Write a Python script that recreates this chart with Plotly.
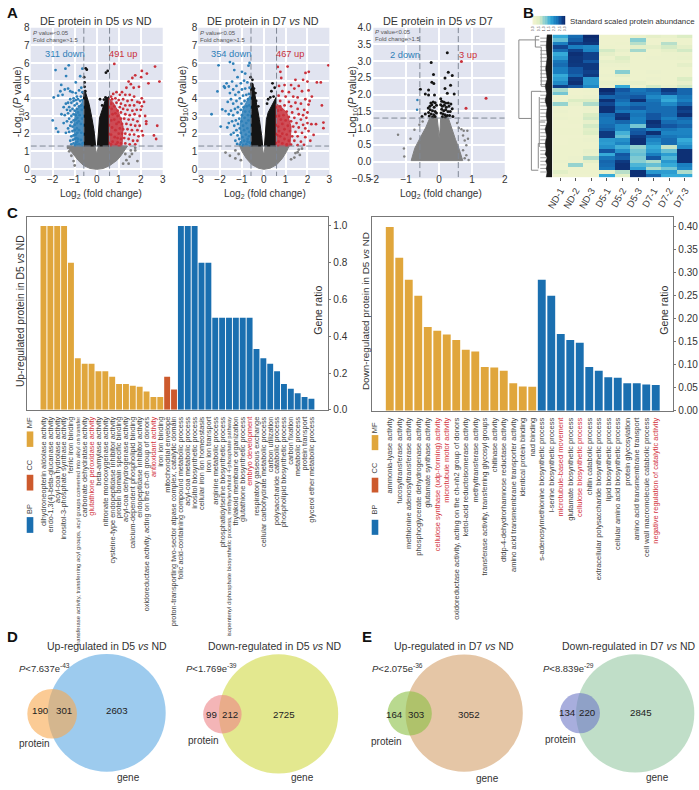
import plotly.graph_objects as go

W, H = 699, 790
FONT = "Liberation Sans"

# volcano values. the solid black/grey masses and the packed part of the
# blue/red clouds hold too many overlapping points to read, so they are traced as outlines;
# everything sparse is typed point by point
a1_down = [(-1.87,5.6),(-1.42,5.68),(-1.27,5.87),(-1.39,5.26),(-1.61,4.76),(-.65,5.68),(-.95,4.9),(-.75,5.25),(-1.45,4.5),(-1.3,4.55),(-1.2,4.4),
    (-1.95,4.05),(-1.75,4.15),(-1.65,4.4),(-1.55,4.2),(-1.1,4.35),(-.95,4.3),(-.8,4.45),(-.7,4.6),(-.65,4.35),(-.72,4.1),(-.9,4.1),(-1.05,4.0),(-1.2,3.95),
    (-1.4,3.7),(-1.3,3.75),(-1.5,3.5),(-1.35,3.35),(-1.25,3.5),(-1.15,3.75),(-1.05,3.85),(-.95,3.9),(-.85,3.95),(-.75,3.85),(-.65,3.9),(-1.0,3.6),(-.9,3.7),(-.8,3.55),(-.7,3.6),
    (-1.6,3.1),(-1.45,3.05),(-1.3,3.15),(-1.2,3.3),(-1.1,3.4),(-1.0,3.3),(-.9,3.4),(-1.15,3.0),(-1.05,3.1),(-.95,3.05),(-1.25,2.85),(-1.35,2.7),(-2.0,2.75),
    (-1.5,2.6),(-1.15,2.65),(-1.05,2.75),(-.95,2.8),(-.88,2.9),(-1.2,2.45),(-1.1,2.4),(-1.0,2.5),(-.9,2.6),(-1.3,2.3),(-1.75,2.1),(-1.4,2.05),(-1.25,2.1),(-1.1,2.15),(-1.0,2.2),(-.9,2.3),
    (-1.85,2.3),(-1.15,1.85),(-1.05,1.9),(-.95,1.95),(-.88,2.05),(-1.2,1.6),(-1.08,1.65),(-1.0,1.7),(-.92,1.75),(-1.05,1.45),(-.95,1.5),(-.88,1.55),(-1.15,1.4),(-.98,1.35),(-.9,1.38),
    (-.85,3.2),(-.78,3.05),(-.68,3.35),(-.82,2.7),(-.72,2.55),(-.66,2.85),(-.8,2.2),(-.7,2.05),(-.85,1.7),(-.72,1.65),(-.64,1.45),(-.8,1.4),(-.74,1.35)]
a1_up = [(.8,5.95),(2.65,5.8),(2.05,5.55),(2.28,5.4),(1.75,5.3),(2.02,5.2),(1.62,5.15),(2.85,4.95),(2.35,4.85),(1.45,4.95),(1.92,4.65),(1.68,4.6),(1.55,4.8),(1.35,4.6),(1.15,4.35),
    (.9,4.35),(.75,4.25),(.65,4.1),(1.05,4.2),(1.3,4.2),(1.5,4.2),(1.7,4.1),(2.05,4.0),(.85,4.0),(.7,3.95),(1.0,3.9),(1.2,3.95),(1.4,3.85),(1.6,3.9),(1.85,3.8),(1.95,3.75),(2.15,3.8),
    (.65,3.7),(.9,3.75),(1.1,3.7),(1.3,3.6),(1.5,3.6),(1.7,3.6),(2.05,3.55),(1.05,3.5),(1.2,3.4),(1.4,3.35),(1.62,3.3),(1.82,3.35),(2.0,3.35),(.95,3.3),(1.1,3.2),(1.3,3.1),(1.5,3.05),(1.72,3.1),
    (1.95,3.0),(2.2,3.0),(.95,3.0),(1.1,2.85),(1.25,2.85),(1.45,2.8),(1.65,2.8),(1.85,2.7),(2.25,2.7),(1.0,2.65),(1.15,2.55),(1.35,2.55),(1.55,2.5),(1.75,2.45),(1.95,2.45),(2.25,2.55),(2.75,2.45),
    (1.05,2.3),(1.2,2.25),(1.4,2.25),(1.6,2.2),(1.85,2.2),(2.05,2.15),(1.0,2.0),(1.15,2.0),(1.3,2.0),(1.5,1.95),(1.7,1.95),(1.9,1.85),(2.1,1.9),(.95,1.75),(1.1,1.7),(1.25,1.75),(1.45,1.7),(1.65,1.6),(1.85,1.6),
    (2.6,1.9),(2.7,1.7),(.95,1.5),(1.1,1.45),(1.3,1.45),(1.5,1.4),(1.75,1.4),(.68,3.4),(.8,3.55),(.72,3.1),(.85,3.15),(.66,2.75),(.8,2.8),(.9,2.55),(.7,2.35),(.85,2.2),(.65,1.95),(.82,1.8),(.72,1.55),(.88,1.38),(.65,1.4)]
a1_black = [(-.5,5.7),(-.55,4.9),(-.45,5.62),(-.57,5.2),(.42,5.45),(.5,5.55),(-.55,4.65),(-.52,4.4),(-.6,4.3),(.33,3.93),(.4,4.05),(.25,3.6),(.15,3.95),(.35,3.5),(.45,4.0),(-.42,3.7),(-.38,3.45)]
a1_grey = [(1.75,1.2),(1.75,1.05),(1.6,.85),(1.55,1.05),(1.85,.45),(-1.3,1.2),(-1.25,1.0),(-1.15,.75),(1.35,.5),(1.45,.3),(-1.05,.45),(-1.0,.2),(1.5,.7),(1.3,.85),(1.2,.3)]
a1_black_left_x = [-.6,-.6,-.52,-.34,-.22,-.12,-.05,-.6]
a1_black_left_y = [1.3,4.4,4.4,3.65,2.9,2.17,1.3,1.3]
a1_black_right_x = [.03,.07,.13,.33,.4,.56,.56,.03]
a1_black_right_y = [1.3,2.17,2.9,3.65,3.95,4.1,1.3,1.3]
a1_grey_x = [-1.35,-1.2,-1.05,-.85,-.6,-.3,0,.3,.6,.93,1.1,1.25,1.4,.08,.02,-.02,-.08,-1.35]
a1_grey_y = [1.3,1.05,.8,.5,.2,.03,-.02,.03,.2,.5,.75,1.05,1.3,1.3,.95,.95,1.3,1.3]
a1_down_core_x = [-.6,-.6,-.75,-.95,-1.05,-.95,-.6]
a1_down_core_y = [1.3,3.9,3.6,3.3,2.4,1.3,1.3]
a1_up_core_x = [.56,.56,.75,1.0,1.2,1.15,.56]
a1_up_core_y = [1.3,4.0,3.75,3.2,2.4,1.3,1.3]

a2_down = [(-2.07,5.87),(-2.39,3.1),(-2.12,4.39),(-1.55,6.05),(-1.4,5.96),(-1.82,4.67),(-1.6,4.67),(-1.97,2.4),(-1.67,2.35),(-1.9,3.37),(-1.75,3.28),(-.65,6.0),(-.7,5.85),(-1.35,5.6),(-1.0,5.5),(-1.2,5.2),
    (-.85,5.4),(-1.45,4.95),(-1.7,4.85),(-1.78,4.6),(-1.55,4.3),(-1.4,4.5),(-1.25,4.7),(-1.05,4.85),(-.9,5.0),(-.75,4.9),(-.65,4.6),(-.85,4.55),(-1.0,4.5),(-1.15,4.35),(-1.3,4.2),(-1.5,3.95),(-1.65,3.8),
    (-1.4,3.7),(-1.25,3.85),(-1.1,4.0),(-.95,4.15),(-.8,4.2),(-.68,4.25),(-.72,3.95),(-.88,3.85),(-1.02,3.7),(-1.18,3.5),(-1.32,3.4),(-1.5,3.3),(-1.6,3.1),(-1.4,3.05),(-1.2,3.2),(-1.05,3.35),(-.92,3.5),(-.78,3.55),
    (-.66,3.6),(-.85,3.25),(-1.0,3.05),(-1.12,2.85),(-1.28,2.75),(-1.45,2.7),(-1.6,2.6),(-1.35,2.45),(-1.18,2.55),(-1.02,2.7),(-.88,2.9),(-.72,3.05),(-.8,2.6),(-.95,2.45),(-1.1,2.3),(-1.25,2.2),(-1.38,2.05),
    (-1.5,1.95),(-1.2,1.9),(-1.05,2.05),(-.9,2.2),(-.75,2.3),(-.66,2.1),(-.82,1.95),(-.98,1.8),(-1.12,1.7),(-1.3,1.6),(-1.22,1.42),(-1.05,1.5),(-.9,1.6),(-.74,1.7),(-.65,1.5),(-.8,1.4),(-.95,1.35),(-1.1,1.38),
    (-.7,2.75),(-.64,3.25),(-.68,1.85),(-.75,1.55)]
a2_up = [(2.96,5.87),(2.06,5.5),(1.91,5.44),(2.43,4.9),(2.61,4.9),(1.09,5.8),(.64,5.78),(.76,5.5),(2.66,3.6),(2.18,2.54),(2.39,2.54),(2.73,2.63),(2.73,2.31),(2.28,1.93),(2.13,1.6),(1.84,1.37),(.8,5.15),(1.45,5.05),
    (1.8,5.05),(2.0,4.95),(.7,4.7),(.95,4.75),(1.25,4.75),(1.6,4.7),(1.4,4.55),(.85,4.4),(1.15,4.35),(1.75,4.4),(2.05,4.45),(2.2,4.1),(.68,4.15),(1.0,4.1),(1.35,4.1),(1.55,4.05),(1.9,3.95),(2.1,3.85),(.75,3.85),
    (1.15,3.8),(1.45,3.75),(1.7,3.7),(2.05,3.65),(.95,3.6),(1.25,3.55),(1.55,3.4),(1.85,3.35),(2.0,3.2),(.8,3.35),(1.05,3.25),(1.3,3.2),(1.6,3.1),(1.8,3.05),(1.95,2.9),(.9,3.05),(1.15,2.95),(1.4,2.9),(1.7,2.8),
    (2.0,2.6),(1.0,2.75),(1.25,2.7),(1.5,2.6),(1.8,2.5),(.85,2.55),(1.1,2.45),(1.35,2.4),(1.6,2.35),(1.9,2.3),(2.05,2.15),(.95,2.25),(1.2,2.15),(1.45,2.1),(1.75,2.05),(.85,2.0),(1.05,1.95),(1.3,1.85),(1.55,1.85),
    (1.9,1.8),(.95,1.7),(1.15,1.6),(1.4,1.6),(1.7,1.55),(.85,1.45),(1.05,1.4),(1.25,1.38),(1.55,1.35),(.7,3.0),(.66,2.4),(.78,2.8),(.7,2.15),(.75,1.85),(.68,1.55),(.75,3.55),(.65,3.3),(.62,1.9)]
a2_black = [(-.52,5.05),(-.55,4.8),(-.45,4.55),(-.38,4.3),(-.6,5.2),(.4,4.85),(.35,4.4),(.5,4.6),(.2,3.95),(.3,4.05),(.45,4.1),(.15,3.7),(-.25,3.55),(-.35,3.85)]
a2_grey = [(-1.75,.93),(-1.55,.75),(-1.3,.6),(1.55,.95),(1.6,1.1),(1.45,.9),(1.65,.8),(1.25,.55),(-1.15,.85),(-1.3,1.05),(1.75,1.15),(1.1,1.25),(1.4,.65),(-1.05,.5)]
a2_black_left_x = [-.6,-.6,-.5,-.33,-.2,-.1,-.05,-.6]
a2_black_left_y = [1.3,4.85,4.85,3.7,2.8,1.9,1.3,1.3]
a2_black_right_x = [.03,.06,.12,.2,.42,.56,.56,.03]
a2_black_right_y = [1.3,1.9,2.8,3.2,3.7,4.05,1.3,1.3]
a2_grey_x = [-1.1,-1.0,-.8,-.55,-.25,0,.3,.6,.85,1.05,1.15,.06,.02,-.02,-.08,-1.1]
a2_grey_y = [1.3,1.0,.6,.25,.05,-.02,.05,.25,.6,1.0,1.3,1.3,.9,.9,1.3,1.3]
a2_down_core_x = [-.6,-.6,-.75,-.95,-1.08,-1.0,-.6]
a2_down_core_y = [1.3,4.2,3.9,3.4,2.5,1.3,1.3]
a2_up_core_x = [.56,.56,.8,1.05,1.25,1.2,.56]
a2_up_core_y = [1.3,3.7,3.5,3.2,2.4,1.3,1.3]

a3_up = [(.68,2.99),(1.43,1.89),(.82,1.59)]
a3_down = [(-.66,1.84),(-.67,1.55)]
a3_black = [(.25,3.25),(-.24,2.96),(.28,2.67),(-.17,2.6),(.4,2.57),(.18,2.5),(-.22,2.37),(-.16,2.33),(.35,2.28),(-.57,2.16),(-.32,2.14),(.18,2.18),(-.42,2.02),(-.32,1.99),(-.14,1.99),(.25,2.04),(.46,2.02),
    (-.25,1.75),(-.18,1.78),(-.12,1.76),(-.28,1.65),(-.22,1.7),(-.15,1.62),(-.08,1.68),(-.33,1.6),(-.27,1.55),(-.2,1.52),(-.12,1.5),(-.32,1.47),(-.24,1.42),(-.16,1.4),(-.08,1.45),(-.3,1.36),(-.2,1.33),(-.12,1.35),(-.42,1.42),(-.52,1.35),
    (.05,1.88),(.08,1.8),(.14,1.78),(.2,1.75),(.28,1.75),(.36,1.72),(.05,1.7),(.1,1.65),(.16,1.68),(.22,1.62),(.3,1.65),(.4,1.58),(.08,1.56),(.14,1.52),(.2,1.55),(.27,1.5),(.34,1.5),(.06,1.45),(.12,1.42),(.18,1.4),(.25,1.38),(.32,1.38),(.1,1.34),(.2,1.33),(.42,1.35)]
a3_grey = [(-1.25,.8),(-1.07,.39),(-1.06,.15),(-.87,.68),(.68,.97),(.75,.92),(.86,.92),(.73,.78),(.88,.68),(.78,.63),(.83,.49),(.73,.34),(.83,.19),(.9,.05),(.78,.1),(-.6,1.1),(-.5,1.2),(-.75,.95),(.55,1.15),(.6,1.0)]
a3_grey_x = [-.85,-.74,-.58,-.4,-.28,-.06,-.02,0,.03,.05,.28,.38,.5,.62,.72,-.85]
a3_grey_y = [.03,.4,.7,1.03,1.31,1.31,.97,.68,.97,1.31,1.31,1.0,.66,.35,.03,.03]

# heatmap, columns as in sample_labels, rows top to bottom
sample_labels = ["ND-1","ND-2","ND-3","D5-1","D5-2","D5-3","D7-1","D7-2","D7-3"]
heat_rows = [
    [.55,.78,1,.04,.04,.06,.12,.08,.2],[.45,.82,.98,.04,.04,.38,.04,.05,.05],[.72,.92,.96,.04,.05,.28,.04,.28,.05],
    [.9,.72,.68,.05,.04,.12,.12,.22,.12],[.78,.92,.7,.22,.1,.32,.05,.12,.22],[.55,.98,.92,.12,.05,.05,.05,.06,.06],
    [.62,.96,.92,.05,.18,.05,.06,.06,.08],[.75,.96,.85,.1,.12,.05,.05,.05,.05],[.78,.95,.95,.06,.06,.05,.05,.05,.12],
    [.72,.85,.95,.05,.05,.05,.05,.05,.05],[.72,.85,.92,.05,.38,.05,.06,.05,.05],[.55,.8,.95,.06,.12,.05,.05,.05,.05],
    [.6,.95,.62,.05,.05,.05,.06,.05,.2],[.68,.98,.62,.08,.1,.1,.05,.05,.1],[.92,.85,.68,.05,.55,.05,.22,.1,.22],
    [.3,.03,.05,1,.85,.75,.8,.95,.8],[.42,.03,.04,.95,.8,.78,.75,.88,.8],[.04,.05,.06,.8,.82,.85,.68,.6,.75],
    [.05,.2,.2,.98,.78,.98,.75,.55,.72],[.35,.08,.3,.9,.72,.78,.78,.68,.8],[.04,.04,.06,.98,.8,.85,.78,.78,.95],
    [.06,.04,.05,.98,.75,.72,.78,.78,.92],[.05,.04,.2,.78,.95,.75,.85,.78,.98],[.06,.05,.22,.75,.98,.72,.85,.72,.8],
    [.04,.05,.1,.75,.8,.72,.98,.78,.75],[.04,.04,.22,.78,.68,.42,.95,.85,.8],[.05,.05,.15,.82,.68,.82,.72,.75,.7],
    [.05,.05,.18,.95,.52,.85,.98,.7,.7],[.04,.04,.05,.95,.45,.95,.8,.75,.72],[.04,.05,.06,.62,.65,.98,.7,.78,.55],
    [.04,.05,.05,.6,.7,.98,.65,.78,.6],[.05,.05,.05,.65,.52,.35,.55,.25,.68],[.05,.05,.1,.85,.65,.42,.6,.45,.98],
    [.05,.05,.08,.55,.85,.45,.72,.6,.98],[.05,.06,.3,.75,.82,.4,.85,.5,.98],[.06,.05,.12,.8,.95,.38,.3,.62,.98],
    [.05,.35,.05,.78,.98,.5,.45,.55,.72],[.05,.05,.05,.75,.98,.58,.3,.42,.68],[.15,.05,.05,.1,.28,.98,.62,.6,.3],
    [.04,.04,.04,.55,.15,.98,.8,.55,.55]]
scale_values = [0,.05,.1,.15,.2,.25,.3,.35,.4,.45,.5,.55,.6,.65,.7,.75,.8,.85,.9,.95,1]
scale_ticks = ["0.0","0.5","1.0","1.5","2.0","2.5","3.0"]

# dendrogram: depth from the left, heatmap row
dendro_x = [25,4.3,4.3,17,None,21,21,None,21,25,None,21,27,None,27,27,None,27,31,None,17,17,None,17,27,None,17,24,None,25,25,None,24,24,None,24,31,None,25,31]
dendro_y = [1,1,23,23,None,0,3,None,0,0,None,3,3,None,3,14,None,14,14,None,15.4,37.5,None,15.4,15.4,None,37.5,37.5,None,17,31,None,30,37,None,30,30,None,24,24]
dendro_leaf_rows = [.5,1.5,2.5,4,5,6,7,8.5,9.5,10.5,11.5,12.5,13.5,15.5,16.5,17.5,18.5,19.5,20.5,21.5,22.5,23.5,25,26,27,28,29,31,32,33,34,35,36,37,38]
dendro_black_x = [33,32,33,31.5,33,31,32.5,31,33,32,33,31,32.5,31,32,31,33,31.5,33,32,33,32,38,38,33]
dendro_black_y = [-.5,3,6,9,12,14,16,18,20,22,24,26,28,30,32,33,34,35,36,37,38,39.5,39.5,-.5,-.5]

# enrichment bars
up_names = ["dihydroneopterin aldolase activity","endo-1,3(4)-beta-glucanase activity","acyl-coa hydrolase activity","inositol-3-phosphate synthase activity","ferric iron binding",
    "transferase activity, transferring acyl groups, acyl groups converted into alkyl on transfer","carbonate dehydratase activity","glutathione peroxidase activity","beta-amylase activity",
    "nitronate monooxygenase activity","cysteine-type endopeptidase inhibitor activity","protein domain specific binding","acyl-coa dehydrogenase activity","calcium-dependent phospholipid binding",
    "endopeptidase inhibitor activity","oxidoreductase activity, acting on the ch-ch group of donors","antioxidant activity","iron ion binding",
    "mitochondrial envelope","proton-transporting two-sector atpase complex, catalytic domain",
    "folic acid-containing compound metabolic process","acyl-coa metabolic process","inositol biosynthetic process","cellular iron ion homeostasis","iron ion transport","arginine metabolic process",
    "phosphatidylserine biosynthetic process","isopentenyl diphosphate biosynthetic process, methylerythritol 4-phosphate pathway","thylakoid membrane organization","glutathione biosynthetic process",
    "embryo development","respiratory gaseous exchange","cellular carbohydrate metabolic process","carbon utilization","polysaccharide catabolic process","phospholipid biosynthetic process",
    "carbon fixation","metabolic process","protein transport","glycerol ether metabolic process"]
up_ratio = [1,1,1,1,.8,.28,.25,.25,.21,.21,.18,.14,.14,.13,.125,.1,.07,.07,.18,.11,1,1,1,.8,.8,.5,.5,.5,.5,.5,.5,.33,.28,.25,.21,.14,.115,.09,.07,.06]
up_groups = ["MF"]*18 + ["CC"]*2 + ["BP"]*20
up_highlight = ["glutathione peroxidase activity","antioxidant activity","embryo development"]
up_small = ["transferase activity, transferring acyl groups, acyl groups converted into alkyl on transfer","isopentenyl diphosphate biosynthetic process, methylerythritol 4-phosphate pathway"]

down_names = ["ammonia-lyase activity","fucosyltransferase activity","methionine adenosyltransferase activity","phosphoglycerate dehydrogenase activity","glutamate synthase activity",
    "cellulose synthase (udp-forming) activity","microtubule motor activity","oxidoreductase activity, acting on the ch-nh2 group of donors","ketol-acid reductoisomerase activity","methyltransferase activity",
    "transferase activity, transferring glycosyl groups","chitinase activity","dtdp-4-dehydrorhamnose reductase activity","amino acid transmembrane transporter activity","identical protein binding","nad binding",
    "s-adenosylmethionine biosynthetic process","l-serine biosynthetic process","microtubule-based movement","glutamate biosynthetic process","cellulose biosynthetic process","chitin catabolic process",
    "extracellular polysaccharide biosynthetic process","lipid biosynthetic process","cellular amino acid biosynthetic process","protein glycosylation","amino acid transmembrane transport",
    "cell wall macromolecule catabolic process","negative regulation of catalytic activity"]
down_ratio = [.4,.333,.285,.25,.182,.174,.166,.154,.133,.129,.095,.094,.087,.06,.053,.052,.285,.25,.167,.154,.148,.095,.087,.073,.072,.06,.06,.057,.056]
down_groups = ["MF"]*16 + ["BP"]*13
down_highlight = ["cellulose synthase (udp-forming) activity","microtubule motor activity","microtubule-based movement","cellulose biosynthetic process","negative regulation of catalytic activity"]

group_colors = {"MF": "#e0a63c", "CC": "#cd5a2d", "BP": "#1a6fb0"}
BLUE, RED, LAV = "#2f80b8", "#c9303a", "#e1e4f0"


def dx(x0, x1):
    return [x0 / W, x1 / W]


def dy(y0, y1):
    return [1 - y1 / H, 1 - y0 / H]


annotations = []
shapes = []


def label(x, y, text, size=9.5, color="#333333", anchor="center", angle=0):
    annotations.append(dict(x=x / W, y=1 - y / H, xref="paper", yref="paper", text=text, showarrow=False,
                            font=dict(size=size, color=color, family=FONT), xanchor=anchor, yanchor="middle",
                            textangle=angle, borderpad=0, borderwidth=0))


fig = go.Figure()


def points(pts, color, ax, size=2.8):
    fig.add_trace(go.Scatter(x=[p[0] for p in pts], y=[p[1] for p in pts], mode="markers", xaxis="x" + ax, yaxis="y" + ax,
                             marker=dict(size=size, color=color, line_width=0), showlegend=False))


def outline(xs, ys, color, ax):
    fig.add_trace(go.Scatter(x=xs, y=ys, mode="lines", fill="toself", fillcolor=color, xaxis="x" + ax, yaxis="y" + ax,
                             line=dict(color=color, width=1), showlegend=False))


def thresholds(ax, xr):
    for x in [-.585, .585]:
        fig.add_trace(go.Scatter(x=[x, x], y=[-1, 9], mode="lines", xaxis="x" + ax, yaxis="y" + ax,
                                 line=dict(color="#7f8794", width=1, dash="6px,3px"), showlegend=False))
    fig.add_trace(go.Scatter(x=xr, y=[1.3, 1.3], mode="lines", xaxis="x" + ax, yaxis="y" + ax,
                             line=dict(color="#7f8794", width=1, dash="6px,3px"), showlegend=False))


# volcano 1
outline(a1_grey_x, a1_grey_y, "#808080", "1")
points(a1_grey, "#808080", "1")
outline(a1_black_left_x, a1_black_left_y, "#141414", "1")
outline(a1_black_right_x, a1_black_right_y, "#141414", "1")
points(a1_black, "#141414", "1")
outline(a1_down_core_x, a1_down_core_y, "rgba(47,128,184,0.85)", "1")
outline(a1_up_core_x, a1_up_core_y, "rgba(201,48,58,0.85)", "1")
points(a1_down, BLUE, "1")
points(a1_up, RED, "1")
thresholds("1", [-3, 3])

# volcano 2
outline(a2_grey_x, a2_grey_y, "#808080", "2")
points(a2_grey, "#808080", "2")
outline(a2_black_left_x, a2_black_left_y, "#141414", "2")
outline(a2_black_right_x, a2_black_right_y, "#141414", "2")
points(a2_black, "#141414", "2")
outline(a2_down_core_x, a2_down_core_y, "rgba(47,128,184,0.85)", "2")
outline(a2_up_core_x, a2_up_core_y, "rgba(201,48,58,0.85)", "2")
points(a2_down, BLUE, "2")
points(a2_up, RED, "2")
thresholds("2", [-3, 3])

# volcano 3
outline(a3_grey_x, a3_grey_y, "#808080", "3")
points(a3_grey, "#808080", "3", 2.5)
points(a3_black, "#141414", "3", 3)
points(a3_down, BLUE, "3", 2.5)
points(a3_up, RED, "3", 3)
thresholds("3", [-2, 2])

# heatmap
heat_scale = [[0, "#f2f3cf"], [.2, "#dcedc4"], [.4, "#7fcad2"], [.55, "#35aad8"], [.72, "#1a7fc0"], [.87, "#12509c"], [1, "#0c2a6e"]]
fig.add_trace(go.Heatmap(z=heat_rows, xaxis="x4", yaxis="y4", colorscale=heat_scale, zmin=0, zmax=1, showscale=False))
fig.add_trace(go.Heatmap(z=[scale_values], xaxis="x5", yaxis="y5", colorscale=heat_scale, zmin=0, zmax=1, showscale=False))

leaf_x, leaf_y = [], []
for r in dendro_leaf_rows:
    leaf_x += [26, 33, None]
    leaf_y += [r, r, None]
fig.add_trace(go.Scatter(x=leaf_x, y=leaf_y, mode="lines", xaxis="x8", yaxis="y8", line=dict(color="#8a8a8a", width=.8), showlegend=False))
fig.add_trace(go.Scatter(x=dendro_x, y=dendro_y, mode="lines", xaxis="x8", yaxis="y8", line=dict(color="#8a8a8a", width=1), showlegend=False))
fig.add_trace(go.Scatter(x=dendro_black_x, y=dendro_black_y, mode="lines", fill="toself", fillcolor="#1a1a1a", xaxis="x8", yaxis="y8",
                         line=dict(color="#1a1a1a", width=.5), showlegend=False))


# bars
def tick_text(names, highlight, size, small=()):
    out = []
    for n in names:
        style = []
        if n in highlight:
            style.append("fill:#d2323c")
        if n in small:
            style.append("font-size:5.9px")
        elif n in highlight:
            style.append(f"font-size:{size}px")
        out.append(f'<span style="{";".join(style)}">{n}</span>' if style else n)
    return out


fig.add_trace(go.Bar(x=list(range(len(up_ratio))), y=up_ratio, width=.86, xaxis="x6", yaxis="y6", marker_color=[group_colors[g] for g in up_groups],
                     marker_line_width=0, showlegend=False))
fig.add_trace(go.Bar(x=list(range(len(down_ratio))), y=down_ratio, width=.83, xaxis="x7", yaxis="y7", marker_color=[group_colors[g] for g in down_groups],
                     marker_line_width=0, showlegend=False))

grid = dict(showgrid=True, gridcolor="white", gridwidth=1.5, zeroline=False, showline=False, ticks="", tickfont=dict(size=10, color="#333333", family=FONT))
box = dict(showline=True, linecolor="#777777", linewidth=1, mirror=True, zeroline=False, showgrid=False)

fig.update_layout(
    width=W, height=H, autosize=False, margin=dict(l=0, r=0, t=0, b=0), paper_bgcolor="white", plot_bgcolor="white",
    font=dict(family=FONT, color="#333333"), barmode="overlay", showlegend=False,
    xaxis=dict(domain=dx(24, 158), range=[-3, 3], dtick=1, ticklabelstandoff=-4, **grid), yaxis=dict(domain=dy(22, 172.7), range=[-.4, 8], dtick=1, **grid),
    xaxis2=dict(domain=dx(194, 327), range=[-3, 3], dtick=1, anchor="y2", ticklabelstandoff=-4, **grid), yaxis2=dict(domain=dy(22, 172.7), range=[-.4, 8], dtick=1, anchor="x2", **grid),
    xaxis3=dict(domain=dx(371.7, 505), range=[-2, 2], dtick=1, anchor="y3", ticklabelstandoff=-6, **grid),
    yaxis3=dict(domain=dy(22, 175), range=[-.5, 4], dtick=.5, tickformat=".1f", anchor="x3", ticklabelstandoff=1, **grid),
    xaxis4=dict(domain=dx(553.3, 695.7), anchor="y4", tickmode="array", tickvals=list(range(9)), ticktext=sample_labels, tickangle=-60, ticks="outside", ticklen=3,
                tickcolor="#555555", tickfont=dict(size=9.5, color="#333333", family=FONT), showgrid=False, zeroline=False),
    yaxis4=dict(domain=dy(29, 174), anchor="x4", range=[39.5, -.5], showticklabels=False, ticks="", showgrid=False, zeroline=False),
    xaxis5=dict(domain=dx(533, 566.7), anchor="y5", tickmode="array", tickvals=[0, 3.33, 6.67, 10, 13.33, 16.67, 20], ticktext=scale_ticks, tickangle=-90, ticks="",
                ticklen=0, tickfont=dict(size=3.5, color="#555555", family=FONT), showgrid=False, zeroline=False),
    yaxis5=dict(domain=dy(10, 19), anchor="x5", showticklabels=False, ticks="", showgrid=False, zeroline=False),
    xaxis6=dict(domain=dx(20, 326), anchor="y6", range=[-2.44, 41.46], tickmode="array", tickvals=list(range(40)), ticktext=tick_text(up_names, up_highlight, 7.4, up_small),
                tickangle=-90, ticks="outside", ticklen=3, tickcolor="rgba(0,0,0,0)", tickfont=dict(size=7.4, color="#444444", family=FONT), **box),
    yaxis6=dict(domain=dy(214, 410), anchor="x6", side="right", range=[0, 1.05], tickmode="array", tickvals=[0, .2, .4, .6, .8, 1], tickformat=".1f", ticks="outside", ticklen=2,
                tickcolor="#777777", tickfont=dict(size=10, color="#333333", family=FONT), **box),
    xaxis7=dict(domain=dx(370, 676), anchor="y7", range=[-1.9, 29.85], tickmode="array", tickvals=list(range(29)), ticktext=tick_text(down_names, down_highlight, 7.5),
                tickangle=-90, ticks="outside", ticklen=3, tickcolor="rgba(0,0,0,0)", tickfont=dict(size=7.5, color="#444444", family=FONT), **box),
    yaxis7=dict(domain=dy(214.7, 411), anchor="x7", side="right", range=[0, .4206], tickmode="array", tickvals=[0, .05, .1, .15, .2, .25, .3, .35, .4], tickformat=".2f", ticks="outside",
                ticklen=2, tickcolor="#777777", tickfont=dict(size=10, color="#333333", family=FONT), **box),
    xaxis8=dict(domain=dx(515, 553), anchor="y8", range=[0, 38], visible=False),
    yaxis8=dict(domain=dy(29, 174), anchor="x8", range=[39.5, -.5], visible=False),
)

# lavender panel backgrounds, under the white grid
for x0, x1, y0, y1 in [(24, 158, 22, 172.7), (194, 327, 22, 172.7), (371.7, 505, 22, 175)]:
    shapes.append(dict(type="rect", xref="paper", yref="paper", x0=x0 / W, x1=x1 / W, y0=1 - y1 / H, y1=1 - y0 / H,
                       fillcolor=LAV, line_width=0, layer="below"))

# panel letters
for x, y, t in [(6, 7, "A"), (528.7, 7, "B"), (6, 210, "C"), (6, 640.7, "D"), (365, 640.7, "E")]:
    label(x, y, f"<b>{t}</b>", 15, "#111111")

# volcano text
for cx, t in [(90, "DE protein in D5 <i>vs</i> ND"), (260, "DE protein in D7 <i>vs</i> ND"), (437, "DE protein in D5 <i>vs</i> D7")]:
    label(cx, 15.7, t, 10.8)
for x in [11, 178, 350.7]:
    label(x, 97, "-Log<sub>10</sub>(<i>P</i> value)", 10.5, angle=-90)
for cx in [95, 262, 440]:
    label(cx, 190.7, "Log<sub>2</sub> (fold change)", 10)
for x, y0 in [(26, 27.3), (196, 27.3), (373.3, 26.7)]:
    label(x, y0, "<i>P</i> value<0.05", 6, "#555555", "left")
    label(x, y0 + 7, "Fold change>1.5", 6, "#555555", "left")
label(59, 48.3, "311 down", 9.3, BLUE)
label(118, 48.3, "491 up", 9.3, RED)
label(227, 48.3, "354 down", 9.3, BLUE)
label(287.3, 48.3, "467 up", 9.3, RED)
label(403.5, 50, "2 down", 9.3, BLUE)
label(468, 50, "3 up", 9.3, RED)
label(571.5, 16, "Standard scaled protein abundance", 7.9, "#333333", "left")

# bar side text and group legends
label(13, 310, "Up-regulated protein in D5 <i>vs</i> ND", 10.3, angle=-90)
label(316, 309, "Gene ratio", 10.5, angle=-90)
label(363, 310, "Down-regulated protein in D5 <i>vs</i> ND", 9.9, angle=-90)
label(667, 309, "Gene ratio", 10.5, angle=-90)
for base, ys in [(20, [(432, 447.7), (476, 492), (519, 535)]), (370, [(435.7, 451), (479, 494), (521.7, 537)])]:
    for (y0, y1), g in zip(ys, ["MF", "CC", "BP"]):
        shapes.append(dict(type="rect", xref="paper", yref="paper", x0=base / W, x1=(base + 6.7) / W, y0=1 - y1 / H, y1=1 - y0 / H,
                           fillcolor=group_colors[g], line_width=0))
for x, y, t in [(23, 423, "MF"), (23, 466, "CC"), (23, 511, "BP"), (373, 428, "MF"), (373, 469, "CC"), (373, 511.7, "BP")]:
    label(x, y, t, 7.5, "#444444", angle=-90)

# venns: gene circle first, protein on top
venn_circles = [(101.2, 717.8, 59.8, "rgb(91,169,227)"), (45.8, 718.7, 25.2, "rgb(249,169,79)"),
                (275.5, 718.8, 60.5, "rgb(208,217,68)"), (218.5, 719.2, 19.5, "rgb(237,132,135)"),
                (463.8, 718, 59.5, "rgb(212,160,107)"), (408.5, 718.3, 22.5, "rgb(138,192,68)"),
                (637.3, 718.3, 60, "rgb(150,200,163)"), (581.2, 718, 20.4, "rgb(110,120,198)")]
for cx, cy, r, c in venn_circles:
    shapes.append(dict(type="circle", xref="paper", yref="paper", x0=(cx - r) / W, x1=(cx + r) / W, y0=1 - (cy + r) / H, y1=1 - (cy - r) / H,
                       fillcolor=c, opacity=.6, line_width=0))

venn_text = [
    (101.7, "Up-regulated in D5 <i>vs</i> ND", 12, "<i>P</i><7.637e<sup>-43</sup>", [(34, 715.7, "190"), (58.3, 715.7, "301"), (112, 715.7, "2603")], (28.3, 749.3), (123, 783.3)),
    (271.7, "Down-regulated in D5 <i>vs</i> ND", 182, "<i>P</i><1.769e<sup>-39</sup>", [(207, 719, "99"), (226.7, 719, "212"), (280.7, 719, "2725")], (199.7, 746), (299.3, 783)),
    (453.3, "Up-regulated in D7 <i>vs</i> ND", 370.7, "<i>P</i><2.075e<sup>-36</sup>", [(393.3, 719.3, "164"), (414.7, 719.3, "303"), (469, 719.3, "3052")], (385, 746.7), (487.7, 784.7)),
    (630.7, "Down-regulated in D7 <i>vs</i> ND", 544, "<i>P</i><8.839e<sup>-29</sup>", [(568.3, 717.3, "134"), (588.5, 717.3, "220"), (643.3, 717.3, "2845")], (561.3, 745.3), (660, 783.3)),
]
for cx, title, px, p, nums, prot, gene in venn_text:
    label(cx, 650, title, 10.5)
    label(px, 672.7, p, 9.5, "#333333", "left")
    for x, y, t in nums:
        label(x, y, t, 9.7, "#222222")
    label(prot[0], prot[1], "protein", 10)
    label(gene[0], gene[1], "gene", 10)

fig.update_layout(annotations=annotations, shapes=shapes)
fig.write_html("out.html", config={"displayModeBar": False}, post_script="document.body.style.margin='0';")
